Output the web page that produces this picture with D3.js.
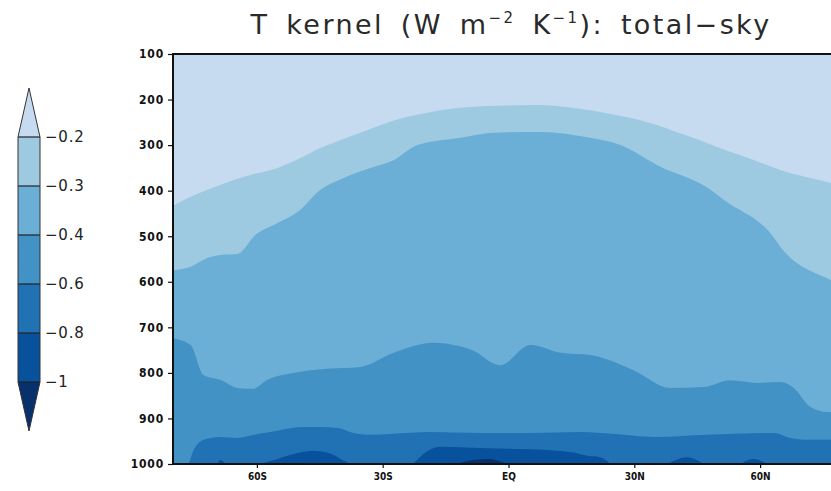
<!DOCTYPE html>
<html>
<head>
<meta charset="utf-8">
<script src="https://cdn.jsdelivr.net/npm/d3@7"></script>
<style>
  body { margin: 0; background: #fff; }
  svg { display: block; }
</style>
</head>
<body>
<svg id="chart" width="831" height="491"></svg>
<script>
// contour levels and fill colours (light -> dark)
const levels = [-0.2, -0.3, -0.4, -0.6, -0.8, -1];
const levelLabels = ["\u22120.2", "\u22120.3", "\u22120.4", "\u22120.6", "\u22120.8", "\u22121"];
const fillColors = ["#c6dbef", "#9ecae1", "#6baed6", "#4292c6", "#2171b5", "#08519c", "#08306b"];

const pressureTicks = [100, 200, 300, 400, 500, 600, 700, 800, 900, 1000];
const latTicks = [-60, -30, 0, 30, 60];
const latLabels = ["60S", "30S", "EQ", "30N", "60N"];

// contour boundaries: [latitude, pressure hPa]
const line02 = [[-80,433],[-75,410],[-70,392],[-65,375],[-60,362],[-55,350],[-50,330],[-45,307],[-40,289],
  [-35,272],[-30,254],[-25,240],[-20,230],[-15,222],[-10,217],[-5,214],[0,213],[5,212],[10,213],[15,218],
  [20,224],[25,233],[30,242],[35,255],[40,271],[45,287],[50,305],[55,321],[60,338],[65,355],[70,368],
  [75,379],[80,390]];
const line03 = [[-80,575],[-75.8,567],[-71.8,548],[-68.7,541],[-64.6,539],[-60.3,497],[-55.1,471],[-50.3,447],
  [-44.8,398],[-39.3,372],[-32.2,348],[-27.4,333],[-21.7,300],[-11.4,284],[-3.6,273],[7.6,271],[19.5,284],
  [26.7,300],[35.5,344],[48.2,398],[51.3,420],[63.2,502],[64.9,524],[76.8,596],[80,610]];
const line04 = [[-80,724],[-75.8,739],[-72.7,805],[-68.7,815],[-64.6,833],[-61,835],[-57.5,815],[-51.3,800],
  [-43.2,791],[-35.3,787],[-27.4,756],[-17.9,734],[-13.1,739],[-7.4,756],[-4.3,776],[-1.9,783],[5.2,739],
  [12.4,756],[19.5,761],[29.8,794],[38.6,833],[46.5,831],[52.9,816],[59.4,822],[64.9,820],[68,833],
  [72,875],[76.1,886],[80,882]];
const line06 = [[-80,1000],[-76.5,1000],[-75.1,970],[-72.7,947],[-68.7,941],[-64.6,943],[-60.8,936],
  [-56.8,930],[-48.9,919],[-44.8,919],[-40.8,921],[-37,932],[-32.9,936],[-28.1,934],[-18.6,930],[-6.7,932],
  [5.2,932],[17.1,930],[21.9,932],[27.4,936],[35.5,941],[47.4,936],[63.2,932],[67.2,943],[71.3,947],[80,947]];
const patches08 = [
  [[-69.4,1000],[-68.7,991],[-67.5,1000]],
  [[-59.2,1000],[-55.1,989],[-52.7,982],[-46.5,971],[-42.5,977],[-38.5,996],[-37,1000]],
  [[-22.7,1000],[-20.3,978],[-16.2,962],[-6.7,965],[1.2,967],[9.3,969],[15.5,975],[18.8,982],[21.9,985],[24.3,1000]],
  [[37.8,1000],[42.6,985],[46.5,1000]],
  [[55.3,1000],[58.4,989],[61.7,1000]]
];
const patches10 = [
  [[-12.3,1000],[-8.5,991],[-4.5,989],[-1.4,996],[0.3,1000]]
];

const svg = d3.select("#chart");
const plot = { left: 173, right: 844, top: 54, bottom: 464 };

const x = d3.scaleLinear().domain([-80, 80]).range([plot.left, plot.right]);
const y = d3.scaleLinear().domain([100, 1000]).range([plot.top, plot.bottom]);

svg.append("defs").append("clipPath").attr("id", "plot-clip")
  .append("rect")
  .attr("x", plot.left).attr("y", plot.top)
  .attr("width", plot.right - plot.left).attr("height", plot.bottom - plot.top);

const g = svg.append("g").attr("clip-path", "url(#plot-clip)");

g.append("rect")
  .attr("x", plot.left).attr("y", plot.top)
  .attr("width", plot.right - plot.left).attr("height", plot.bottom - plot.top)
  .attr("fill", fillColors[0]);

const area = d3.area()
  .x(d => x(d[0]))
  .y0(y(1000) + 2)
  .y1(d => y(d[1]))
  .curve(d3.curveMonotoneX);

const layers = [
  { lines: [line02], color: fillColors[1] },
  { lines: [line03], color: fillColors[2] },
  { lines: [line04], color: fillColors[3] },
  { lines: [line06], color: fillColors[4] },
  { lines: patches08, color: fillColors[5] },
  { lines: patches10, color: fillColors[6] }
];

layers.forEach(layer => {
  g.selectAll(null)
    .data(layer.lines)
    .join("path")
    .attr("d", area)
    .attr("fill", layer.color);
});

// axes
const yAxis = d3.axisLeft(y).tickValues(pressureTicks).tickFormat(d3.format("d"))
  .tickSize(5).tickPadding(4);
const yG = svg.append("g")
  .attr("transform", `translate(${plot.left},0)`)
  .call(yAxis);
yG.select(".domain").remove();
yG.selectAll("line").attr("stroke", "#111").attr("stroke-width", 1.2);
yG.selectAll("text")
  .attr("font-family", "'DejaVu Sans Condensed', 'DejaVu Sans', sans-serif")
  .attr("font-weight", "bold")
  .attr("font-size", 12)
  .attr("letter-spacing", 0.8)
  .attr("fill", "#111");

const xAxis = d3.axisBottom(x).tickValues(latTicks)
  .tickFormat((d, i) => latLabels[i]).tickSize(4).tickPadding(5);
const xG = svg.append("g")
  .attr("transform", `translate(0,${plot.bottom})`)
  .call(xAxis);
xG.select(".domain").remove();
xG.selectAll("line").attr("stroke", "#111").attr("stroke-width", 1.2);
xG.selectAll("text")
  .attr("font-family", "'DejaVu Sans Condensed', 'DejaVu Sans', sans-serif")
  .attr("font-weight", "bold")
  .attr("font-size", 10)
  .attr("fill", "#111");

// frame (right edge is off-screen)
svg.append("path")
  .attr("d", `M${plot.right},${plot.top}H${plot.left}V${plot.bottom}H${plot.right}`)
  .attr("fill", "none")
  .attr("stroke", "#111")
  .attr("stroke-width", 2);

// title
const title = svg.append("text")
  .attr("x", 511)
  .attr("y", 34)
  .attr("text-anchor", "middle")
  .attr("font-family", "'DejaVu Sans', sans-serif")
  .attr("font-size", 27)
  .attr("letter-spacing", 2.4)
  .attr("word-spacing", 6)
  .attr("fill", "#2a2a2a");
title.append("tspan").text("T kernel (W m");
title.append("tspan").attr("font-size", 15).attr("dy", -11).text("\u22122");
title.append("tspan").attr("dy", 11).text(" K");
title.append("tspan").attr("font-size", 15).attr("dy", -11).text("\u22121");
title.append("tspan").attr("dy", 11).text("): total\u2212sky");

// colour bar
const cbX = 18, cbW = 22;
const cb = d3.scaleLinear().domain([0, levels.length - 1]).range([137, 382]);
const cbStep = cb(1) - cb(0);
const cbG = svg.append("g");

cbG.append("path")
  .attr("d", `M${cbX},${cb(0)}L${cbX + cbW / 2},${cb(0) - cbStep}L${cbX + cbW},${cb(0)}Z`)
  .attr("fill", fillColors[0]);
cbG.selectAll("rect")
  .data(d3.range(levels.length - 1))
  .join("rect")
  .attr("x", cbX)
  .attr("y", d => cb(d))
  .attr("width", cbW)
  .attr("height", cbStep)
  .attr("fill", d => fillColors[d + 1]);
cbG.append("path")
  .attr("d", `M${cbX},${cb(levels.length - 1)}L${cbX + cbW / 2},${cb(levels.length - 1) + cbStep}L${cbX + cbW},${cb(levels.length - 1)}Z`)
  .attr("fill", fillColors[fillColors.length - 1]);

cbG.selectAll("line.sep")
  .data(levels)
  .join("line")
  .attr("class", "sep")
  .attr("x1", cbX).attr("x2", cbX + cbW)
  .attr("y1", (d, i) => cb(i)).attr("y2", (d, i) => cb(i))
  .attr("stroke", "#222")
  .attr("stroke-width", 1.2);

cbG.append("path")
  .attr("d", `M${cbX},${cb(0)}L${cbX + cbW / 2},${cb(0) - cbStep}L${cbX + cbW},${cb(0)}` +
    `V${cb(levels.length - 1)}L${cbX + cbW / 2},${cb(levels.length - 1) + cbStep}L${cbX},${cb(levels.length - 1)}Z`)
  .attr("fill", "none")
  .attr("stroke", "#333")
  .attr("stroke-width", 1);

cbG.selectAll("text")
  .data(levelLabels)
  .join("text")
  .attr("x", cbX + cbW + 5)
  .attr("y", (d, i) => cb(i))
  .attr("dy", "0.35em")
  .attr("font-family", "'DejaVu Sans', sans-serif")
  .attr("font-size", 15)
  .attr("letter-spacing", 0.8)
  .attr("fill", "#222")
  .text(d => d);
</script>
</body>
</html>
